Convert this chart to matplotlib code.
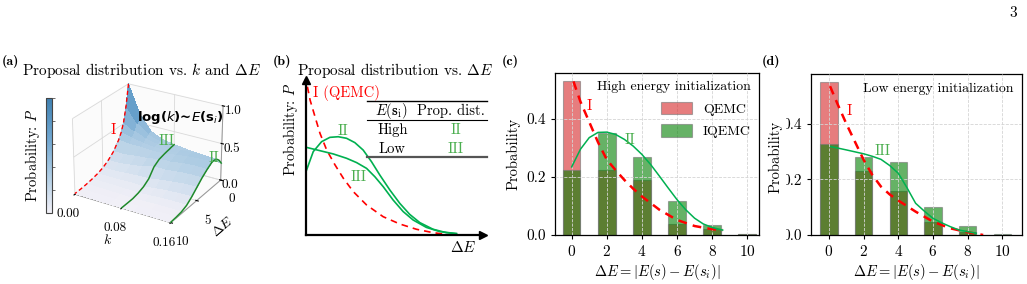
"""
Proposal-distribution figure: 3D surface (a), schematic (b),
and sampled energy-difference histograms for high / low energy starts (c, d).
"""

import matplotlib

matplotlib.use("Agg")
import matplotlib.pyplot as plt
import numpy as np
from matplotlib.colors import LinearSegmentedColormap
from matplotlib.patches import Rectangle

W, H = 1027, 284

# ---------------- data ----------------
# (a) proposal probability P on a grid of k (rows) and Delta E (columns)
SURF_K = [0.00, 0.02, 0.04, 0.06, 0.08, 0.10, 0.12, 0.14, 0.16]
SURF_DE = [0, 0.5, 1, 1.5, 2, 3, 4, 5, 6, 7, 8, 9, 10]
SURF_P = [
    [1.00, 0.72, 0.52, 0.40, 0.32, 0.21, 0.14, 0.09, 0.06, 0.04, 0.025, 0.015, 0.01],
    [0.62, 0.52, 0.43, 0.36, 0.30, 0.21, 0.14, 0.09, 0.06, 0.04, 0.025, 0.015, 0.01],
    [0.42, 0.39, 0.36, 0.33, 0.30, 0.23, 0.16, 0.10, 0.06, 0.04, 0.022, 0.013, 0.008],
    [0.35, 0.34, 0.33, 0.31, 0.29, 0.24, 0.18, 0.11, 0.065, 0.035, 0.018, 0.010, 0.006],
    [0.32, 0.315, 0.306, 0.30, 0.292, 0.272, 0.222, 0.114, 0.06, 0.03, 0.012, 0.008, 0.005],
    [0.30, 0.32, 0.33, 0.33, 0.32, 0.28, 0.22, 0.14, 0.08, 0.04, 0.018, 0.010, 0.006],
    [0.28, 0.32, 0.34, 0.345, 0.34, 0.30, 0.24, 0.16, 0.095, 0.05, 0.022, 0.012, 0.006],
    [0.25, 0.31, 0.345, 0.355, 0.35, 0.31, 0.25, 0.175, 0.105, 0.052, 0.023, 0.012, 0.006],
    [0.235, 0.30, 0.34, 0.355, 0.354, 0.307, 0.25, 0.18, 0.11, 0.052, 0.023, 0.012, 0.006],
]
ROW_I, ROW_III, ROW_II = 0, 4, 8

# (b) schematic curves (axis fraction, no units)
B_I_X = [0.008, 0.023, 0.051, 0.079, 0.117, 0.164, 0.211, 0.267, 0.342, 0.436, 0.530, 0.624, 0.718, 0.793]
B_I_Y = [0.957, 0.871, 0.763, 0.656, 0.548, 0.452, 0.366, 0.280, 0.194, 0.118, 0.071, 0.037, 0.015, 0.004]
B_II_X = [0.0, 0.041, 0.088, 0.135, 0.182, 0.229, 0.276, 0.323, 0.370, 0.417, 0.474, 0.530, 0.586, 0.643, 0.718, 0.793, 0.850]
B_II_Y = [0.409, 0.538, 0.602, 0.630, 0.634, 0.624, 0.596, 0.548, 0.473, 0.387, 0.290, 0.204, 0.133, 0.080, 0.037, 0.015, 0.009]
B_III_X = [0.0, 0.079, 0.154, 0.229, 0.286, 0.342, 0.389, 0.436, 0.492, 0.549, 0.605, 0.680, 0.756, 0.850]
B_III_Y = [0.566, 0.544, 0.523, 0.495, 0.467, 0.430, 0.376, 0.312, 0.226, 0.151, 0.097, 0.049, 0.022, 0.009]

# (c) high energy initialization
BAR_DE = [0, 2, 4, 6, 8, 10]
C_QEMC = [0.531, 0.223, 0.191, 0.038, 0.020, 0.002]
C_IQEMC = [0.226, 0.351, 0.269, 0.118, 0.035, 0.002]
C_I_X = [0.1, 0.5, 1, 1.5, 2, 2.5, 3, 3.5, 4, 5, 6, 7, 8, 8.6]
C_I_Y = [0.53, 0.46, 0.39, 0.32, 0.26, 0.224, 0.19, 0.16, 0.133, 0.087, 0.052, 0.031, 0.020, 0.017]
C_II_X = [0, 0.5, 1, 1.5, 2, 2.5, 3, 3.5, 4, 4.5, 5, 5.5, 6, 6.5, 7, 7.5, 8, 8.6]
C_II_Y = [0.235, 0.296, 0.336, 0.354, 0.355, 0.347, 0.330, 0.307, 0.278, 0.243, 0.203, 0.162,
          0.122, 0.087, 0.058, 0.038, 0.026, 0.017]

# (d) low energy initialization
D_QEMC = [0.550, 0.231, 0.159, 0.048, 0.012, 0.001]
D_IQEMC = [0.327, 0.280, 0.261, 0.101, 0.032, 0.002]
D_I_X = [0.06, 0.5, 1, 1.5, 2, 2.5, 3, 3.5, 4, 5, 6, 7, 8, 8.9]
D_I_Y = [0.535, 0.47, 0.40, 0.335, 0.27, 0.216, 0.174, 0.146, 0.124, 0.084, 0.048, 0.024, 0.010, 0.0]
D_III_X = [0.1, 1, 2, 2.5, 3, 3.5, 4, 4.5, 5, 5.5, 6, 6.5, 7, 7.5, 8, 8.5]
D_III_Y = [0.318, 0.306, 0.292, 0.283, 0.272, 0.25, 0.222, 0.17, 0.114, 0.086, 0.06, 0.044, 0.03,
           0.018, 0.012, 0.006]

# ---------------- style ----------------
RED = "red"
BAR_RED = "#d62728"
GREEN_LINE = "#00b050"
GREEN_TXT = "#4caf50"
GREEN_3D = "#1f8a2a"
CMAP = LinearSegmentedColormap.from_list(
    "probblue", [(0.0, "#f2f0f7"), (0.3, "#b3cfe5"), (0.65, "#6fa6d0"), (1.0, "#3f80b0")])

plt.rcParams.update({
    "font.family": "cmr10",
    "mathtext.fontset": "cm",
    "axes.formatter.use_mathtext": True,
    "axes.unicode_minus": False,
    "font.size": 10,
})


def rect(l, t, r, b):
    return [l / W, 1 - b / H, (r - l) / W, (b - t) / H]


fig = plt.figure(figsize=(W / 100, H / 100), dpi=100)

# ---------------- (a) ----------------
ax_a = fig.add_axes(rect(35, 52, 257, 254), projection="3d", computed_zorder=False)
K, DE = np.meshgrid(SURF_K, SURF_DE, indexing="ij")
P = np.array(SURF_P)
surf = ax_a.plot_surface(DE, K, P, cmap=CMAP, vmin=0, vmax=1, rstride=1, cstride=1,
                         linewidth=0, antialiased=False, shade=False, zorder=1)
ax_a.plot(SURF_DE, [SURF_K[ROW_I]] * len(SURF_DE), SURF_P[ROW_I], color=RED, lw=1.0,
          ls=(0, (3, 2)), zorder=5)
ax_a.plot(SURF_DE, [SURF_K[ROW_III]] * len(SURF_DE), SURF_P[ROW_III], color=GREEN_3D,
          lw=1.1, zorder=5)
ax_a.plot(SURF_DE, [SURF_K[ROW_II]] * len(SURF_DE), SURF_P[ROW_II], color=GREEN_3D,
          lw=1.1, zorder=5)
ax_a.set_xlim(0, 10)
ax_a.set_ylim(0, 0.16)
ax_a.set_zlim(0, 1)
ax_a.set_xticks([0, 5, 10])
ax_a.set_yticks([0, 0.08, 0.16])
ax_a.set_yticklabels(["0.00", "0.08", "0.16"])
ax_a.set_zticks([0, 0.5, 1.0])
ax_a.set_zticklabels(["0.0", "0.5", "1.0"])
ax_a.set_xlabel(r"$\Delta E$", fontsize=10, labelpad=-1)
ax_a.set_ylabel(r"$k$", fontsize=10, labelpad=-1)
ax_a.tick_params(axis="x", labelsize=9.5, pad=1)
ax_a.tick_params(axis="y", labelsize=9.5, pad=1)
ax_a.tick_params(axis="z", labelsize=9.5, pad=-3)
ax_a.zaxis.set_ticks_position("upper")
ax_a.zaxis.set_label_position("upper")
ax_a.view_init(elev=26, azim=31)
ax_a.set_box_aspect((3.7, 4, 3.0), zoom=0.83)
for axis in (ax_a.xaxis, ax_a.yaxis, ax_a.zaxis):
    axis.set_pane_color((0.985, 0.985, 0.985, 1.0))
    axis._axinfo["grid"]["color"] = "#d9d9d9"
    axis._axinfo["grid"]["linewidth"] = 0.6
    axis.line.set_color("#999999")
    axis.line.set_linewidth(0.7)

cax = fig.add_axes(rect(46, 98, 52, 213))
cb = fig.colorbar(surf, cax=cax)
cb.set_ticks([0.2, 0.4, 0.6, 0.8, 1.0])
cb.ax.set_yticklabels([])
cb.ax.tick_params(length=2.5, width=0.6, color="#555555")
cb.outline.set_edgecolor("#444444")
cb.outline.set_linewidth(0.8)
cb.ax.yaxis.set_label_position("left")
cb.set_label(r"Probability: $P$", fontsize=10.5, labelpad=3)

fig.text(180 / W, 1 - 117 / H, r"log($k$)~$E$($\mathbf{s}_i$)", family="DejaVu Sans",
         math_fontfamily="dejavusans", weight="bold", fontsize=9.5, ha="center", va="center")
fig.text(113 / W, 1 - 130 / H, "I", color=RED, fontsize=10.5, ha="center", va="center")
fig.text(167 / W, 1 - 141 / H, "III", color=GREEN_TXT, fontsize=10.5, ha="center", va="center")
fig.text(214 / W, 1 - 158 / H, "II", color=GREEN_TXT, fontsize=10.5, ha="center", va="center")

fig.text(2 / W, 1 - 62 / H, "(a)", family="cmb10", fontsize=10, ha="left", va="center")
fig.text(141 / W, 1 - 70 / H, r"Proposal distribution vs. $k$ and $\Delta E$", fontsize=11,
         ha="center", va="center")

# ---------------- (b) ----------------
ax_b = fig.add_axes(rect(306, 80, 483, 235))
ax_b.set_xlim(0, 1)
ax_b.set_ylim(0, 1)
for s in ("top", "right"):
    ax_b.spines[s].set_visible(False)
for s in ("left", "bottom"):
    ax_b.spines[s].set_linewidth(1.6)
ax_b.set_xticks([])
ax_b.set_yticks([])
ax_b.plot(1, 0, ">k", ms=6, transform=ax_b.transAxes, clip_on=False)
ax_b.plot(0, 1, "^k", ms=6, transform=ax_b.transAxes, clip_on=False)
ax_b.plot(B_I_X, B_I_Y, color=RED, lw=1.2, ls=(0, (4, 3)))
ax_b.plot(B_II_X, B_II_Y, color=GREEN_LINE, lw=1.2)
ax_b.plot(B_III_X, B_III_Y, color=GREEN_LINE, lw=1.2)
ax_b.text(0.038, 0.918, "I (QEMC)", color=RED, fontsize=10.5, ha="left", va="center")
ax_b.text(0.21, 0.667, "II", color=GREEN_TXT, fontsize=10.5, ha="center", va="center")
ax_b.text(0.30, 0.376, "III", color=GREEN_TXT, fontsize=10.5, ha="center", va="center")
# little table
ax_b.axhline(0.867, 0.342, 1.02, color="k", lw=1.0, clip_on=False)
ax_b.axhline(0.742, 0.342, 1.02, color="k", lw=0.8, clip_on=False)
ax_b.axhline(0.505, 0.342, 1.02, color="#555555", lw=1.6, clip_on=False)
ax_b.text(0.483, 0.80, r"$E(\mathbf{s}_\mathrm{i})$", fontsize=10.5, ha="center", va="center")
ax_b.text(0.821, 0.80, "Prop. dist.", fontsize=10.5, ha="center", va="center")
ax_b.text(0.492, 0.677, "High", fontsize=10.5, ha="center", va="center")
ax_b.text(0.85, 0.677, "II", color=GREEN_TXT, fontsize=10.5, ha="center", va="center")
ax_b.text(0.483, 0.555, "Low", fontsize=10.5, ha="center", va="center")
ax_b.text(0.846, 0.555, "III", color=GREEN_TXT, fontsize=10.5, ha="center", va="center")
ax_b.text(-0.09, 0.684, r"Probability: $P$", rotation=90, fontsize=10.5, ha="center",
          va="center", transform=ax_b.transAxes)
ax_b.text(0.887, -0.08, r"$\Delta E$", fontsize=11, ha="center", va="center")
fig.text(273 / W, 1 - 62 / H, "(b)", family="cmb10", fontsize=10, ha="left", va="center")
fig.text(395 / W, 1 - 70 / H, r"Proposal distribution vs. $\Delta E$", fontsize=11,
         ha="center", va="center")


# ---------------- (c), (d) ----------------
def hist_panel(ax, qemc, iqemc, xlim, ylim):
    bq = ax.bar(BAR_DE, qemc, width=1.0, color=BAR_RED, alpha=0.6, edgecolor="#777777",
                linewidth=0.8, zorder=1)
    bi = ax.bar(BAR_DE, iqemc, width=1.0, color="green", alpha=0.6, edgecolor="#777777",
                linewidth=0.8, zorder=1)
    ax.set_xlim(*xlim)
    ax.set_ylim(*ylim)
    ax.set_xticks(BAR_DE)
    ax.set_yticks([0.0, 0.2, 0.4])
    ax.set_yticklabels(["0.0", "0.2", "0.4"])
    ax.grid(True, ls="--", color="#d5d5d5", lw=0.6)
    ax.set_axisbelow(False)
    ax.tick_params(labelsize=11, length=3)
    ax.set_xlabel(r"$\Delta E = |E(s) - E(s_i)|$", fontsize=10.5, labelpad=2)
    for s in ax.spines.values():
        s.set_linewidth(0.9)
    return bq, bi


ax_c = fig.add_axes(rect(555, 73, 759, 235))
bq, bi = hist_panel(ax_c, C_QEMC, C_IQEMC, (-0.95, 10.67), (0, 0.559))
ax_c.plot(C_I_X, C_I_Y, color=RED, lw=1.8, ls=(0, (3.5, 2.5)), zorder=3)
ax_c.plot(C_II_X, C_II_Y, color=GREEN_LINE, lw=1.1, zorder=3)
ax_c.text(1.0, 0.445, "I", color=RED, fontsize=10.5, ha="center", va="center")
ax_c.text(3.3, 0.328, "II", color=GREEN_TXT, fontsize=10.5, ha="center", va="center")
ax_c.set_ylabel("Probability", fontsize=10.5, labelpad=4)
ax_c.legend([bq, bi], ["QEMC", "IQEMC"], title="High energy initialization",
            loc="upper right", frameon=False, alignment="right", fontsize=10,
            title_fontsize=10, handlelength=2.2, handleheight=1.0, borderaxespad=0.2,
            labelspacing=0.6)
fig.text(502 / W, 1 - 62 / H, "(c)", family="cmb10", fontsize=10, ha="left", va="center")

ax_d = fig.add_axes(rect(811, 74, 1022, 235))
hist_panel(ax_d, D_QEMC, D_IQEMC, (-1.04, 11.14), (0, 0.579))
ax_d.plot(D_I_X, D_I_Y, color=RED, lw=1.8, ls=(0, (3.5, 2.5)), zorder=3)
ax_d.plot(D_III_X, D_III_Y, color=GREEN_LINE, lw=1.1, zorder=3)
ax_d.text(1.15, 0.444, "I", color=RED, fontsize=10.5, ha="center", va="center")
ax_d.text(3.1, 0.303, "III", color=GREEN_TXT, fontsize=10.5, ha="center", va="center")
ax_d.text(0.96, 0.91, "Low energy initialization", fontsize=10, ha="right", va="center",
          transform=ax_d.transAxes)
fig.text(762 / W, 1 - 62 / H, "(d)", family="cmb10", fontsize=10, ha="left", va="center")
# the (d) ylabel sits over the left part of its tick labels
fig.patches.append(Rectangle((761 / W, 1 - 245 / H), 25 / W, 150 / H, facecolor="white",
                             edgecolor="none", transform=fig.transFigure, zorder=4))
fig.text(775 / W, 1 - 157 / H, "Probability", rotation=90, fontsize=10.5, ha="center",
         va="center", zorder=5)

fig.text(1013 / W, 1 - 13 / H, "3", fontsize=11, ha="center", va="center")

fig.savefig("out.png", dpi=100)
